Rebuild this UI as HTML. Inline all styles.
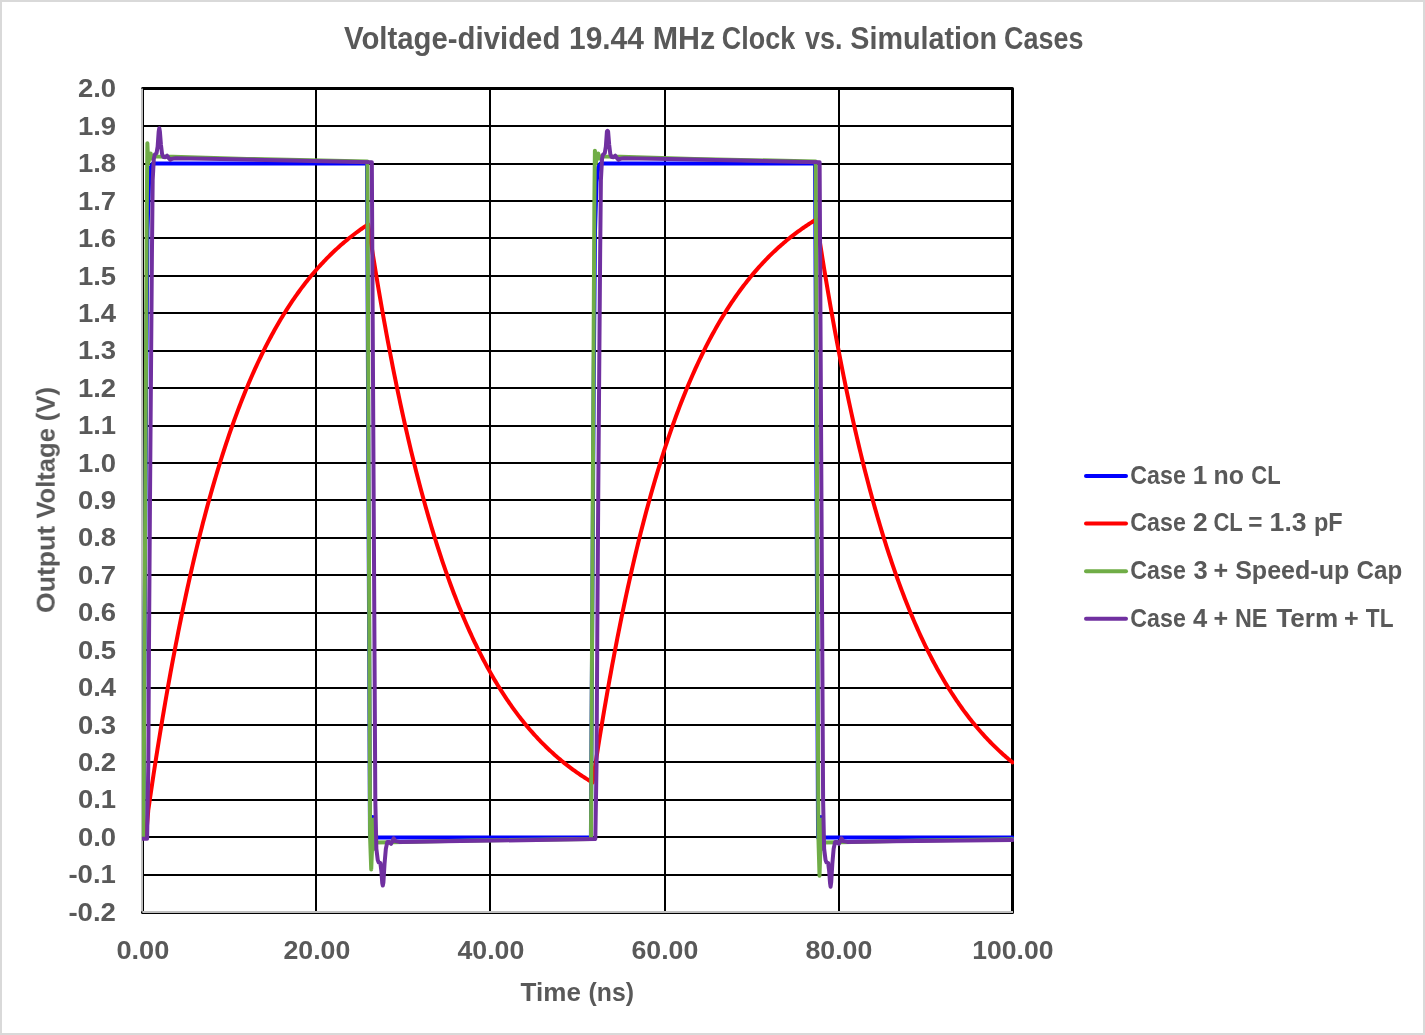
<!DOCTYPE html>
<html lang="en"><head><meta charset="utf-8"><title>Voltage-divided 19.44 MHz Clock vs. Simulation Cases</title>
<style>
html,body{margin:0;padding:0;background:#fff;}
body{width:1425px;height:1035px;overflow:hidden;position:relative;font-family:"Liberation Sans",sans-serif;}
svg{position:absolute;left:0;top:0;display:block;}
text{font-family:"Liberation Sans",sans-serif;font-weight:bold;}
</style></head><body>
<svg width="1425" height="1035" viewBox="0 0 1425 1035">
<rect x="0" y="0" width="1425" height="1035" fill="#fff"/>
<rect x="1" y="1" width="1423" height="1033" fill="none" stroke="#d9d9d9" stroke-width="2"/>
<g fill="#000" shape-rendering="crispEdges"><rect x="143" y="125" width="869" height="2"/><rect x="143" y="163" width="869" height="2"/><rect x="143" y="200" width="869" height="2"/><rect x="143" y="237" width="869" height="2"/><rect x="143" y="275" width="869" height="2"/><rect x="143" y="312" width="869" height="2"/><rect x="143" y="350" width="869" height="2"/><rect x="143" y="387" width="869" height="2"/><rect x="143" y="425" width="869" height="2"/><rect x="143" y="462" width="869" height="2"/><rect x="143" y="499" width="869" height="2"/><rect x="143" y="537" width="869" height="2"/><rect x="143" y="574" width="869" height="2"/><rect x="143" y="612" width="869" height="2"/><rect x="143" y="649" width="869" height="2"/><rect x="143" y="687" width="869" height="2"/><rect x="143" y="724" width="869" height="2"/><rect x="143" y="761" width="869" height="2"/><rect x="143" y="799" width="869" height="2"/><rect x="143" y="836" width="869" height="2"/><rect x="143" y="874" width="869" height="2"/><rect x="315" y="89" width="2" height="823"/><rect x="489" y="89" width="2" height="823"/><rect x="664" y="89" width="2" height="823"/><rect x="838" y="89" width="2" height="823"/></g>
<rect x="142.5" y="88.5" width="870" height="824" fill="none" stroke="#000" stroke-width="3" stroke-linejoin="round"/>
<g fill="#bfbfbf"><rect x="141" y="88.6" width="2" height="822.8"/><rect x="142.4" y="911" width="870.6" height="2"/></g>
<defs><clipPath id="pc"><rect x="142" y="87" width="872" height="827"/></clipPath></defs>
<g fill="none" stroke-linejoin="round" stroke-linecap="round" clip-path="url(#pc)">
<path d="M142.50,837.59 L143.37,837.59 L146.15,388.14 L147.46,230.83 L149.03,182.14 L150.76,167.15 L152.94,163.41 L367.05,163.41 L370.00,837.59 L372.01,837.59 L372.79,816.99 L373.57,837.59 L590.90,837.59 L593.68,388.14 L594.99,230.83 L596.55,182.14 L598.29,167.15 L600.47,163.41 L815.10,163.41 L818.05,837.59 L820.06,837.59 L820.84,816.99 L821.62,837.59 L1012.50,837.59" stroke="#0000ff" stroke-width="4.0"/>
<path d="M145.98,837.59 L148.32,809.91 L149.62,800.94 L150.92,792.09 L152.22,783.37 L153.52,774.76 L154.82,766.28 L156.12,757.91 L157.42,749.66 L158.72,741.52 L160.03,733.50 L161.33,725.59 L162.63,717.79 L163.93,710.09 L165.23,702.51 L166.53,695.02 L167.83,687.65 L169.13,680.37 L170.43,673.20 L171.73,666.12 L173.03,659.15 L174.34,652.27 L175.64,645.48 L176.94,638.79 L178.24,632.19 L179.54,625.69 L180.84,619.27 L182.14,612.95 L183.44,606.71 L184.74,600.56 L186.04,594.49 L187.35,588.51 L188.65,582.61 L189.95,576.79 L191.25,571.05 L192.55,565.39 L193.85,559.82 L195.15,554.31 L196.45,548.89 L197.75,543.54 L199.05,538.26 L200.35,533.06 L201.66,527.93 L202.96,522.87 L204.26,517.88 L205.56,512.97 L206.86,508.11 L208.16,503.33 L209.46,498.61 L210.76,493.96 L212.06,489.37 L213.36,484.85 L214.67,480.39 L215.97,475.99 L217.27,471.65 L218.57,467.37 L219.87,463.16 L221.17,459.00 L222.47,454.89 L223.77,450.85 L225.07,446.86 L226.37,442.93 L227.68,439.05 L228.98,435.22 L230.28,431.45 L231.58,427.73 L232.88,424.06 L234.18,420.44 L235.48,416.88 L236.78,413.36 L238.08,409.89 L239.38,406.47 L240.68,403.10 L241.99,399.77 L243.29,396.49 L244.59,393.25 L245.89,390.06 L247.19,386.92 L248.49,383.82 L249.79,380.76 L251.09,377.74 L252.39,374.77 L253.69,371.83 L255.00,368.94 L256.30,366.09 L257.60,363.28 L258.90,360.50 L260.20,357.77 L261.50,355.07 L262.80,352.41 L264.10,349.79 L265.40,347.20 L266.70,344.65 L268.00,342.14 L269.31,339.65 L270.61,337.21 L271.91,334.80 L273.21,332.42 L274.51,330.07 L275.81,327.76 L277.11,325.48 L278.41,323.23 L279.71,321.01 L281.01,318.82 L282.32,316.67 L283.62,314.54 L284.92,312.44 L286.22,310.37 L287.52,308.34 L288.82,306.32 L290.12,304.34 L291.42,302.38 L292.72,300.46 L294.02,298.55 L295.32,296.68 L296.63,294.83 L297.93,293.01 L299.23,291.21 L300.53,289.43 L301.83,287.68 L303.13,285.96 L304.43,284.26 L305.73,282.58 L307.03,280.93 L308.33,279.30 L309.64,277.69 L310.94,276.10 L312.24,274.54 L313.54,273.00 L314.84,271.48 L316.14,269.98 L317.44,268.50 L318.74,267.04 L320.04,265.60 L321.34,264.18 L322.64,262.78 L323.95,261.40 L325.25,260.04 L326.55,258.70 L327.85,257.38 L329.15,256.08 L330.45,254.79 L331.75,253.52 L333.05,252.27 L334.35,251.04 L335.65,249.82 L336.96,248.62 L338.26,247.44 L339.56,246.27 L340.86,245.12 L342.16,243.99 L343.46,242.87 L344.76,241.77 L346.06,240.68 L347.36,239.61 L348.66,238.55 L349.96,237.51 L351.27,236.48 L352.57,235.47 L353.87,234.47 L355.17,233.48 L356.47,232.51 L357.77,231.55 L359.07,230.60 L360.37,229.67 L361.67,228.75 L362.97,227.84 L364.28,226.95 L365.58,226.07 L366.88,225.20 L368.18,224.34 L368.18,224.34 L369.48,232.83 L370.77,241.20 L372.07,249.45 L373.37,257.59 L374.67,265.62 L375.96,273.54 L377.26,281.35 L378.56,289.05 L379.86,296.64 L381.15,304.12 L382.45,311.51 L383.75,318.79 L385.04,325.97 L386.34,333.05 L387.64,340.04 L388.94,346.92 L390.23,353.71 L391.53,360.41 L392.83,367.02 L394.13,373.53 L395.42,379.95 L396.72,386.29 L398.02,392.53 L399.32,398.69 L400.61,404.77 L401.91,410.76 L403.21,416.67 L404.51,422.49 L405.80,428.24 L407.10,433.90 L408.40,439.49 L409.70,445.00 L410.99,450.43 L412.29,455.79 L413.59,461.08 L414.89,466.29 L416.18,471.43 L417.48,476.50 L418.78,481.49 L420.08,486.42 L421.37,491.28 L422.67,496.08 L423.97,500.80 L425.27,505.46 L426.56,510.06 L427.86,514.59 L429.16,519.07 L430.46,523.47 L431.75,527.82 L433.05,532.11 L434.35,536.34 L435.65,540.51 L436.94,544.62 L438.24,548.67 L439.54,552.67 L440.84,556.62 L442.13,560.51 L443.43,564.34 L444.73,568.12 L446.03,571.85 L447.32,575.53 L448.62,579.16 L449.92,582.73 L451.22,586.26 L452.51,589.74 L453.81,593.17 L455.11,596.55 L456.41,599.89 L457.70,603.18 L459.00,606.42 L460.30,609.62 L461.59,612.78 L462.89,615.89 L464.19,618.96 L465.49,621.99 L466.78,624.97 L468.08,627.91 L469.38,630.82 L470.68,633.68 L471.97,636.50 L473.27,639.28 L474.57,642.03 L475.87,644.73 L477.16,647.40 L478.46,650.04 L479.76,652.63 L481.06,655.19 L482.35,657.72 L483.65,660.21 L484.95,662.66 L486.25,665.08 L487.54,667.47 L488.84,669.82 L490.14,672.15 L491.44,674.44 L492.73,676.70 L494.03,678.92 L495.33,681.12 L496.63,683.28 L497.92,685.42 L499.22,687.53 L500.52,689.60 L501.82,691.65 L503.11,693.67 L504.41,695.66 L505.71,697.63 L507.01,699.56 L508.30,701.48 L509.60,703.36 L510.90,705.22 L512.20,707.05 L513.49,708.86 L514.79,710.64 L516.09,712.40 L517.39,714.13 L518.68,715.84 L519.98,717.52 L521.28,719.18 L522.58,720.82 L523.87,722.44 L525.17,724.03 L526.47,725.60 L527.77,727.15 L529.06,728.68 L530.36,730.19 L531.66,731.68 L532.95,733.14 L534.25,734.59 L535.55,736.01 L536.85,737.42 L538.14,738.81 L539.44,740.17 L540.74,741.52 L542.04,742.85 L543.33,744.16 L544.63,745.46 L545.93,746.73 L547.23,747.99 L548.52,749.23 L549.82,750.45 L551.12,751.66 L552.42,752.85 L553.71,754.02 L555.01,755.18 L556.31,756.32 L557.61,757.44 L558.90,758.55 L560.20,759.65 L561.50,760.73 L562.80,761.79 L564.09,762.84 L565.39,763.87 L566.69,764.89 L567.99,765.90 L569.28,766.89 L570.58,767.87 L571.88,768.84 L573.18,769.79 L574.47,770.73 L575.77,771.65 L577.07,772.56 L578.37,773.46 L579.66,774.35 L580.96,775.23 L582.26,776.09 L583.56,776.94 L584.85,777.78 L586.15,778.61 L587.45,779.42 L588.75,780.23 L590.04,781.02 L591.34,781.81 L592.64,782.58 L592.64,782.58 L593.94,773.99 L595.24,765.51 L596.54,757.16 L597.84,748.92 L599.14,740.79 L600.44,732.78 L601.74,724.88 L603.05,717.08 L604.35,709.40 L605.65,701.82 L606.95,694.35 L608.25,686.98 L609.55,679.72 L610.85,672.55 L612.15,665.48 L613.45,658.52 L614.75,651.65 L616.06,644.87 L617.36,638.19 L618.66,631.60 L619.96,625.10 L621.26,618.69 L622.56,612.38 L623.86,606.15 L625.16,600.00 L626.46,593.94 L627.76,587.97 L629.06,582.07 L630.37,576.26 L631.67,570.53 L632.97,564.88 L634.27,559.31 L635.57,553.82 L636.87,548.40 L638.17,543.06 L639.47,537.79 L640.77,532.59 L642.07,527.47 L643.38,522.42 L644.68,517.44 L645.98,512.52 L647.28,507.68 L648.58,502.90 L649.88,498.19 L651.18,493.54 L652.48,488.96 L653.78,484.44 L655.08,479.99 L656.38,475.59 L657.69,471.26 L658.99,466.99 L660.29,462.78 L661.59,458.62 L662.89,454.52 L664.19,450.48 L665.49,446.50 L666.79,442.57 L668.09,438.70 L669.39,434.88 L670.70,431.11 L672.00,427.39 L673.30,423.73 L674.60,420.12 L675.90,416.55 L677.20,413.04 L678.50,409.58 L679.80,406.16 L681.10,402.79 L682.40,399.47 L683.70,396.19 L685.01,392.96 L686.31,389.78 L687.61,386.64 L688.91,383.54 L690.21,380.48 L691.51,377.47 L692.81,374.50 L694.11,371.57 L695.41,368.68 L696.71,365.83 L698.02,363.02 L699.32,360.25 L700.62,357.52 L701.92,354.83 L703.22,352.17 L704.52,349.55 L705.82,346.97 L707.12,344.42 L708.42,341.91 L709.72,339.43 L711.02,336.99 L712.33,334.58 L713.63,332.20 L714.93,329.86 L716.23,327.55 L717.53,325.27 L718.83,323.03 L720.13,320.81 L721.43,318.63 L722.73,316.47 L724.03,314.35 L725.34,312.25 L726.64,310.19 L727.94,308.15 L729.24,306.14 L730.54,304.16 L731.84,302.21 L733.14,300.28 L734.44,298.38 L735.74,296.51 L737.04,294.66 L738.34,292.84 L739.65,291.04 L740.95,289.27 L742.25,287.53 L743.55,285.80 L744.85,284.11 L746.15,282.43 L747.45,280.78 L748.75,279.15 L750.05,277.54 L751.35,275.96 L752.66,274.40 L753.96,272.86 L755.26,271.34 L756.56,269.84 L757.86,268.36 L759.16,266.91 L760.46,265.47 L761.76,264.05 L763.06,262.66 L764.36,261.28 L765.66,259.92 L766.97,258.58 L768.27,257.26 L769.57,255.96 L770.87,254.67 L772.17,253.41 L773.47,252.16 L774.77,250.93 L776.07,249.71 L777.37,248.52 L778.67,247.33 L779.98,246.17 L781.28,245.02 L782.58,243.89 L783.88,242.77 L785.18,241.67 L786.48,240.58 L787.78,239.51 L789.08,238.46 L790.38,237.42 L791.68,236.39 L792.98,235.38 L794.29,234.38 L795.59,233.39 L796.89,232.42 L798.19,231.46 L799.49,230.52 L800.79,229.59 L802.09,228.67 L803.39,227.76 L804.69,226.87 L805.99,225.99 L807.30,225.12 L808.60,224.26 L809.90,223.42 L811.20,222.59 L812.50,221.77 L813.80,220.96 L815.10,220.16 L816.40,219.37 L816.40,219.37 L817.70,227.93 L819.00,236.38 L820.30,244.71 L821.60,252.92 L822.90,261.02 L824.19,269.01 L825.49,276.89 L826.79,284.65 L828.09,292.32 L829.39,299.87 L830.69,307.32 L831.99,314.67 L833.28,321.91 L834.58,329.05 L835.88,336.10 L837.18,343.05 L838.48,349.90 L839.78,356.65 L841.08,363.32 L842.38,369.89 L843.67,376.37 L844.97,382.76 L846.27,389.06 L847.57,395.27 L848.87,401.40 L850.17,407.44 L851.47,413.40 L852.76,419.28 L854.06,425.07 L855.36,430.79 L856.66,436.42 L857.96,441.98 L859.26,447.46 L860.56,452.87 L861.86,458.20 L863.15,463.45 L864.45,468.64 L865.75,473.75 L867.05,478.79 L868.35,483.76 L869.65,488.66 L870.95,493.49 L872.24,498.26 L873.54,502.96 L874.84,507.60 L876.14,512.17 L877.44,516.68 L878.74,521.12 L880.04,525.51 L881.34,529.83 L882.63,534.10 L883.93,538.30 L885.23,542.45 L886.53,546.54 L887.83,550.57 L889.13,554.54 L890.43,558.47 L891.72,562.33 L893.02,566.15 L894.32,569.91 L895.62,573.61 L896.92,577.27 L898.22,580.88 L899.52,584.43 L900.82,587.94 L902.11,591.40 L903.41,594.81 L904.71,598.17 L906.01,601.49 L907.31,604.76 L908.61,607.99 L909.91,611.17 L911.20,614.31 L912.50,617.40 L913.80,620.45 L915.10,623.46 L916.40,626.42 L917.70,629.35 L919.00,632.23 L920.29,635.08 L921.59,637.88 L922.89,640.65 L924.19,643.38 L925.49,646.07 L926.79,648.72 L928.09,651.34 L929.39,653.92 L930.68,656.46 L931.98,658.97 L933.28,661.45 L934.58,663.89 L935.88,666.30 L937.18,668.67 L938.48,671.01 L939.77,673.32 L941.07,675.59 L942.37,677.84 L943.67,680.05 L944.97,682.23 L946.27,684.38 L947.57,686.51 L948.87,688.60 L950.16,690.66 L951.46,692.70 L952.76,694.71 L954.06,696.69 L955.36,698.64 L956.66,700.56 L957.96,702.46 L959.25,704.33 L960.55,706.18 L961.85,708.00 L963.15,709.80 L964.45,711.57 L965.75,713.31 L967.05,715.03 L968.35,716.73 L969.64,718.41 L970.94,720.06 L972.24,721.69 L973.54,723.29 L974.84,724.87 L976.14,726.44 L977.44,727.98 L978.73,729.49 L980.03,730.99 L981.33,732.47 L982.63,733.93 L983.93,735.36 L985.23,736.78 L986.53,738.17 L987.83,739.55 L989.12,740.91 L990.42,742.25 L991.72,743.57 L993.02,744.87 L994.32,746.16 L995.62,747.42 L996.92,748.67 L998.21,749.90 L999.51,751.12 L1000.81,752.32 L1002.11,753.50 L1003.41,754.66 L1004.71,755.81 L1006.01,756.95 L1007.31,758.06 L1008.60,759.16 L1009.90,760.25 L1011.20,761.32 L1012.50,762.38" stroke="#ff0000" stroke-width="4.0"/>
<path d="M143.46,837.59 L143.46,837.59 L146.85,200.86 L147.37,143.18 L148.24,163.41 L149.46,156.67 L150.76,153.67 L152.07,158.54 L154.25,156.29 L158.16,156.48 L172.95,156.85 L246.90,158.91 L367.39,161.54 L367.39,161.54 L370.09,837.59 L371.22,869.43 L372.18,845.08 L373.40,819.61 L374.44,848.83 L375.83,842.46 L392.36,842.27 L470.66,840.59 L590.98,839.09 L590.98,837.59 L594.38,200.86 L594.90,150.67 L595.77,163.41 L596.99,156.67 L598.29,153.67 L599.60,158.54 L601.77,156.29 L605.69,156.48 L620.48,156.85 L694.43,158.91 L815.71,161.54 L815.71,161.54 L818.40,837.59 L819.53,875.79 L820.49,845.08 L821.71,819.61 L822.75,848.83 L824.14,842.46 L840.67,842.27 L918.97,840.59 L1012.50,839.28" stroke="#70ad47" stroke-width="4.0"/>
<path d="M142.50,838.71 L145.98,838.71 L147.11,838.71 L148.33,762.68 L149.03,639.08 L149.98,500.50 L151.90,257.05 L152.68,180.26 L153.81,158.91 L154.85,154.42 L156.59,152.92 L157.64,146.55 L158.68,131.57 L159.29,128.20 L159.90,131.57 L160.94,144.68 L162.07,154.05 L163.38,157.04 L165.29,157.23 L167.03,155.73 L168.77,158.17 L170.34,159.85 L172.25,158.73 L175.56,158.35 L220.80,159.10 L371.83,162.29 L371.83,162.29 L375.31,800.14 L376.36,848.83 L377.75,860.06 L378.62,862.31 L380.36,863.06 L381.40,871.30 L382.27,883.29 L382.79,885.53 L383.40,882.54 L384.53,863.81 L385.84,848.83 L387.32,841.90 L389.32,842.09 L391.06,843.77 L392.36,841.34 L393.67,838.34 L395.41,841.15 L399.32,841.90 L444.56,841.34 L595.07,839.09 L595.33,838.71 L596.55,762.68 L597.25,639.08 L598.21,500.50 L600.12,257.05 L600.90,180.26 L602.03,158.91 L603.08,154.42 L604.82,152.92 L605.86,146.55 L606.91,131.57 L607.51,130.82 L608.12,131.57 L609.17,144.68 L610.30,154.05 L611.60,157.04 L613.52,157.23 L615.26,155.73 L617.00,158.17 L618.56,159.85 L620.48,158.73 L623.78,158.35 L669.02,159.10 L819.62,162.29 L819.62,162.29 L823.10,800.14 L824.14,848.83 L825.54,860.06 L826.41,862.31 L828.15,863.06 L829.19,871.30 L830.06,883.29 L830.58,886.66 L831.19,882.54 L832.32,863.81 L833.63,848.83 L835.11,841.90 L837.11,842.09 L838.85,843.77 L840.15,841.34 L841.46,838.34 L843.20,841.15 L847.11,841.90 L892.35,841.34 L1012.50,839.91" stroke="#7030a0" stroke-width="4.0"/>
</g>
<g fill="#595959" font-family="'Liberation Sans', sans-serif" font-weight="bold" style="opacity:0.999">
<text x="344.00" y="48.7" font-size="30.6" textLength="216.34" lengthAdjust="spacingAndGlyphs">Voltage-divided</text>
<text x="569.02" y="48.7" font-size="30.6" textLength="74.84" lengthAdjust="spacingAndGlyphs">19.44</text>
<text x="652.66" y="48.7" font-size="30.6" textLength="62.53" lengthAdjust="spacingAndGlyphs">MHz</text>
<text x="721.87" y="48.7" font-size="30.6" textLength="73.33" lengthAdjust="spacingAndGlyphs">Clock</text>
<text x="805.01" y="48.7" font-size="30.6" textLength="37.43" lengthAdjust="spacingAndGlyphs">vs.</text>
<text x="850.27" y="48.7" font-size="30.6" textLength="146.81" lengthAdjust="spacingAndGlyphs">Simulation</text>
<text x="1004.07" y="48.7" font-size="30.6" textLength="79.35" lengthAdjust="spacingAndGlyphs">Cases</text>
<text x="77.9" y="97.45" font-size="26.2" text-anchor="start" textLength="38.2" lengthAdjust="spacingAndGlyphs">2.0</text>
<text x="77.9" y="134.87" font-size="26.2" text-anchor="start" textLength="38.2" lengthAdjust="spacingAndGlyphs">1.9</text>
<text x="77.9" y="172.29" font-size="26.2" text-anchor="start" textLength="38.2" lengthAdjust="spacingAndGlyphs">1.8</text>
<text x="77.9" y="209.71" font-size="26.2" text-anchor="start" textLength="38.2" lengthAdjust="spacingAndGlyphs">1.7</text>
<text x="77.9" y="247.13" font-size="26.2" text-anchor="start" textLength="38.2" lengthAdjust="spacingAndGlyphs">1.6</text>
<text x="77.9" y="284.55" font-size="26.2" text-anchor="start" textLength="38.2" lengthAdjust="spacingAndGlyphs">1.5</text>
<text x="77.9" y="321.97" font-size="26.2" text-anchor="start" textLength="38.2" lengthAdjust="spacingAndGlyphs">1.4</text>
<text x="77.9" y="359.39" font-size="26.2" text-anchor="start" textLength="38.2" lengthAdjust="spacingAndGlyphs">1.3</text>
<text x="77.9" y="396.81" font-size="26.2" text-anchor="start" textLength="38.2" lengthAdjust="spacingAndGlyphs">1.2</text>
<text x="77.9" y="434.23" font-size="26.2" text-anchor="start" textLength="38.2" lengthAdjust="spacingAndGlyphs">1.1</text>
<text x="77.9" y="471.65" font-size="26.2" text-anchor="start" textLength="38.2" lengthAdjust="spacingAndGlyphs">1.0</text>
<text x="77.9" y="509.07" font-size="26.2" text-anchor="start" textLength="38.2" lengthAdjust="spacingAndGlyphs">0.9</text>
<text x="77.9" y="546.49" font-size="26.2" text-anchor="start" textLength="38.2" lengthAdjust="spacingAndGlyphs">0.8</text>
<text x="77.9" y="583.91" font-size="26.2" text-anchor="start" textLength="38.2" lengthAdjust="spacingAndGlyphs">0.7</text>
<text x="77.9" y="621.33" font-size="26.2" text-anchor="start" textLength="38.2" lengthAdjust="spacingAndGlyphs">0.6</text>
<text x="77.9" y="658.75" font-size="26.2" text-anchor="start" textLength="38.2" lengthAdjust="spacingAndGlyphs">0.5</text>
<text x="77.9" y="696.17" font-size="26.2" text-anchor="start" textLength="38.2" lengthAdjust="spacingAndGlyphs">0.4</text>
<text x="77.9" y="733.59" font-size="26.2" text-anchor="start" textLength="38.2" lengthAdjust="spacingAndGlyphs">0.3</text>
<text x="77.9" y="771.01" font-size="26.2" text-anchor="start" textLength="38.2" lengthAdjust="spacingAndGlyphs">0.2</text>
<text x="77.9" y="808.43" font-size="26.2" text-anchor="start" textLength="38.2" lengthAdjust="spacingAndGlyphs">0.1</text>
<text x="77.9" y="845.85" font-size="26.2" text-anchor="start" textLength="38.2" lengthAdjust="spacingAndGlyphs">0.0</text>
<text x="68.4" y="883.27" font-size="26.2" text-anchor="start" textLength="47.5" lengthAdjust="spacingAndGlyphs">-0.1</text>
<text x="68.4" y="920.69" font-size="26.2" text-anchor="start" textLength="47.5" lengthAdjust="spacingAndGlyphs">-0.2</text>
<text x="116.45" y="959.2" font-size="26.2" text-anchor="start" textLength="52.9" lengthAdjust="spacingAndGlyphs">0.00</text>
<text x="283.45" y="959.2" font-size="26.2" text-anchor="start" textLength="66.9" lengthAdjust="spacingAndGlyphs">20.00</text>
<text x="457.45" y="959.2" font-size="26.2" text-anchor="start" textLength="66.9" lengthAdjust="spacingAndGlyphs">40.00</text>
<text x="631.45" y="959.2" font-size="26.2" text-anchor="start" textLength="66.9" lengthAdjust="spacingAndGlyphs">60.00</text>
<text x="805.45" y="959.2" font-size="26.2" text-anchor="start" textLength="66.9" lengthAdjust="spacingAndGlyphs">80.00</text>
<text x="972.30" y="959.2" font-size="26.2" text-anchor="start" textLength="81.2" lengthAdjust="spacingAndGlyphs">100.00</text>
<text x="520.61" y="1000.8" font-size="25.7" textLength="60.28" lengthAdjust="spacingAndGlyphs">Time</text>
<text x="588.57" y="1000.8" font-size="25.7" textLength="45.37" lengthAdjust="spacingAndGlyphs">(ns)</text>
<g transform="translate(54.7,612) rotate(-90)">
<text x="-1.09" y="0" font-size="25.7" textLength="87.22" lengthAdjust="spacingAndGlyphs">Output</text>
<text x="93.43" y="0" font-size="25.7" textLength="90.55" lengthAdjust="spacingAndGlyphs">Voltage</text>
<text x="190.72" y="0" font-size="25.7" textLength="34.26" lengthAdjust="spacingAndGlyphs">(V)</text>
</g>
<line x1="1086" y1="476.0" x2="1126" y2="476.0" stroke="#0000ff" stroke-width="4" stroke-linecap="round"/>
<text x="1130.35" y="483.6" font-size="25.0" textLength="55.44" lengthAdjust="spacingAndGlyphs">Case</text>
<text x="1192.85" y="483.6" font-size="25.0" textLength="14.58" lengthAdjust="spacingAndGlyphs">1</text>
<text x="1213.46" y="483.6" font-size="25.0" textLength="30.41" lengthAdjust="spacingAndGlyphs">no</text>
<text x="1251.27" y="483.6" font-size="25.0" textLength="29.33" lengthAdjust="spacingAndGlyphs">CL</text>
<line x1="1086" y1="523.6" x2="1126" y2="523.6" stroke="#ff0000" stroke-width="4" stroke-linecap="round"/>
<text x="1130.35" y="531.0" font-size="25.0" textLength="55.44" lengthAdjust="spacingAndGlyphs">Case</text>
<text x="1193.09" y="531.0" font-size="25.0" textLength="14.67" lengthAdjust="spacingAndGlyphs">2</text>
<text x="1213.47" y="531.0" font-size="25.0" textLength="29.33" lengthAdjust="spacingAndGlyphs">CL</text>
<text x="1248.19" y="531.0" font-size="25.0" textLength="14.21" lengthAdjust="spacingAndGlyphs">=</text>
<text x="1269.63" y="531.0" font-size="25.0" textLength="36.93" lengthAdjust="spacingAndGlyphs">1.3</text>
<text x="1313.95" y="531.0" font-size="25.0" textLength="28.71" lengthAdjust="spacingAndGlyphs">pF</text>
<line x1="1086" y1="571.2" x2="1126" y2="571.2" stroke="#70ad47" stroke-width="4" stroke-linecap="round"/>
<text x="1130.35" y="578.6" font-size="25.0" textLength="55.44" lengthAdjust="spacingAndGlyphs">Case</text>
<text x="1193.41" y="578.6" font-size="25.0" textLength="14.21" lengthAdjust="spacingAndGlyphs">3</text>
<text x="1213.44" y="578.6" font-size="25.0" textLength="14.67" lengthAdjust="spacingAndGlyphs">+</text>
<text x="1235.18" y="578.6" font-size="25.0" textLength="114.05" lengthAdjust="spacingAndGlyphs">Speed-up</text>
<text x="1356.61" y="578.6" font-size="25.0" textLength="45.58" lengthAdjust="spacingAndGlyphs">Cap</text>
<line x1="1086" y1="618.8" x2="1126" y2="618.8" stroke="#7030a0" stroke-width="4" stroke-linecap="round"/>
<text x="1130.35" y="626.6" font-size="25.0" textLength="55.44" lengthAdjust="spacingAndGlyphs">Case</text>
<text x="1193.01" y="626.6" font-size="25.0" textLength="14.22" lengthAdjust="spacingAndGlyphs">4</text>
<text x="1213.44" y="626.6" font-size="25.0" textLength="14.67" lengthAdjust="spacingAndGlyphs">+</text>
<text x="1235.04" y="626.6" font-size="25.0" textLength="32.37" lengthAdjust="spacingAndGlyphs">NE</text>
<text x="1276.31" y="626.6" font-size="25.0" textLength="61.91" lengthAdjust="spacingAndGlyphs">Term</text>
<text x="1343.94" y="626.6" font-size="25.0" textLength="14.67" lengthAdjust="spacingAndGlyphs">+</text>
<text x="1365.85" y="626.6" font-size="25.0" textLength="27.65" lengthAdjust="spacingAndGlyphs">TL</text>
</g>
</svg>
</body></html>
